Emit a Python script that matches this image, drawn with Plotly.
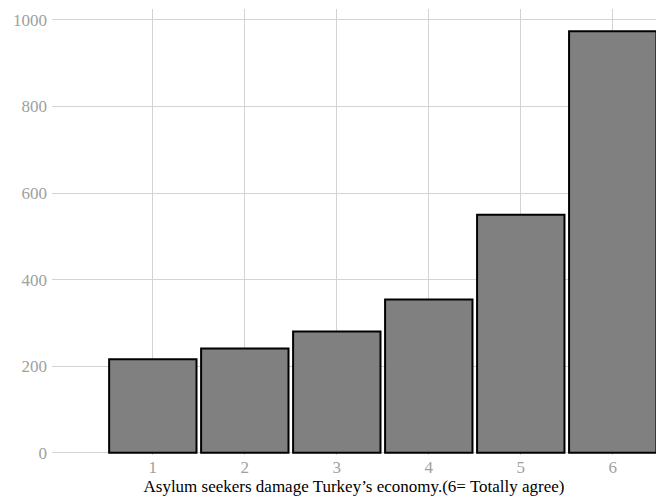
import plotly.graph_objects as go

categories = [1, 2, 3, 4, 5, 6]
counts = [216, 241, 280, 354, 550, 974]
y_ticks = [0, 200, 400, 600, 800, 1000]
x_title = "Asylum seekers damage Turkey’s economy.(6= Totally agree)"

fig = go.Figure(
    go.Bar(
        x=categories,
        y=counts,
        width=0.95,
        marker=dict(color="#808080", line=dict(color="black", width=2)),
    )
)

font_family = "Liberation Serif"
fig.update_layout(
    width=656,
    height=499,
    margin=dict(l=52, r=0, t=9, b=44),
    paper_bgcolor="white",
    plot_bgcolor="white",
    showlegend=False,
    font=dict(family=font_family, size=17, color="#a0a0a0"),
    xaxis=dict(
        range=[-0.096, 6.47],
        tickvals=categories,
        ticktext=[str(c) for c in categories],
        showgrid=True,
        gridcolor="#d3d3d3",
        gridwidth=1,
        zeroline=False,
        showline=False,
        ticks="",
        tickfont=dict(family=font_family, size=17, color="#a0a0a0"),
        title=dict(text=x_title, font=dict(family=font_family, size=17, color="black"), standoff=0),
    ),
    yaxis=dict(
        range=[-5.3, 1025.4],
        tickvals=y_ticks,
        showgrid=True,
        gridcolor="#d3d3d3",
        gridwidth=1,
        zeroline=False,
        showline=False,
        ticks="",
        ticklabelstandoff=4,
        tickfont=dict(family=font_family, size=17, color="#a0a0a0"),
    ),
)

fig.write_html(
    "out.html",
    config={"displayModeBar": False},
    post_script="document.body.style.margin='0';document.body.style.overflow='hidden';",
)
